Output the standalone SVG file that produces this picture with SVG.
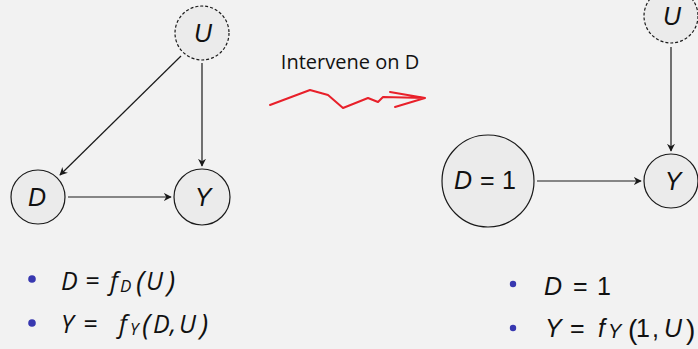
<svg xmlns="http://www.w3.org/2000/svg" width="698" height="349" viewBox="0 0 698 349">
  <style>
    .node { fill: #ebebeb; stroke: #1a1a1a; stroke-width: 1.2; }
    .latent { stroke-dasharray: 3 2; }
    .edge { stroke: #1a1a1a; stroke-width: 1.2; fill: none; marker-end: url(#arrow); }
    .lbl { font-family: "Liberation Sans", Arial, sans-serif; font-size: 25px; fill: #111; }
    .it { font-style: italic; }
    .eq { font-family: "Open Sans", "Liberation Sans", sans-serif; font-size: 25px; font-style: italic; fill: #111; }
    .sub { font-size: 17px; }
    .par { font-size: 29px; }
    .bullet { fill: #3838b0; }
    .note { font-family: "Open Sans", "Liberation Sans", sans-serif; font-size: 20px; fill: #111; }
  </style>
  <defs>
    <marker id="arrow" viewBox="0 0 10 10" refX="9" refY="5" markerWidth="8" markerHeight="8" markerUnits="userSpaceOnUse" orient="auto">
      <path d="M0,0 L10,5 L0,10 L3,5 Z" fill="#1a1a1a"/>
    </marker>
  </defs>
  <rect width="698" height="349" fill="#f2f2f2"/>

  <!-- connectors -->
  <g id="connectors">
    <line class="edge" x1="181" y1="56" x2="60" y2="175"/>
    <line class="edge" x1="202" y1="63" x2="202" y2="166"/>
    <line class="edge" x1="68" y1="197" x2="171" y2="197"/>
    <line class="edge" x1="671" y1="47" x2="671" y2="151"/>
    <line class="edge" x1="537" y1="181" x2="641" y2="181"/>
  </g>

  <!-- original model -->
  <g id="U1">
    <circle class="node latent" cx="202" cy="33" r="27"/>
    <text class="lbl it" x="203" y="42" text-anchor="middle">U</text>
  </g>
  <g id="D1">
    <circle class="node" cx="38" cy="197" r="27"/>
    <text class="lbl it" x="37" y="206" text-anchor="middle">D</text>
  </g>
  <g id="Y1">
    <circle class="node" cx="202" cy="197" r="28"/>
    <text class="lbl it" x="203" y="206" text-anchor="middle">Y</text>
  </g>

  <!-- intervention -->
  <g id="intervene">
    <text class="note" x="350" y="69" text-anchor="middle">Intervene on D</text>
    <path d="M270,105 L310,90 L328,95 L343,108 L368,98 L378,102 L383,97 L425,98 M390,92 L425,98 L395,107" fill="none" stroke="#e8202a" stroke-width="2" stroke-linejoin="round" stroke-linecap="round"/>
  </g>

  <!-- intervened model -->
  <g id="U2">
    <circle class="node latent" cx="671" cy="16" r="27"/>
    <text class="lbl it" x="672" y="25" text-anchor="middle">U</text>
  </g>
  <g id="D2">
    <circle class="node" cx="488" cy="181" r="46"/>
    <text class="lbl"><tspan class="it" x="454" y="189">D</tspan><tspan x="480" y="189">=</tspan><tspan x="502" y="189">1</tspan></text>
  </g>
  <g id="Y2">
    <circle class="node" cx="671" cy="181" r="27"/>
    <text class="lbl it" x="673" y="190" text-anchor="middle">Y</text>
  </g>

  <!-- structural equations -->
  <g id="eq-left">
    <circle class="bullet" cx="32" cy="279" r="3.8"/>
    <text class="eq"><tspan x="61" y="290">D</tspan><tspan x="85" y="290">=</tspan><tspan x="110" y="290">f</tspan><tspan class="sub" x="120" y="292">D</tspan><tspan class="par" x="136" y="292">(</tspan><tspan x="146" y="290">U</tspan><tspan class="par" x="167" y="292">)</tspan></text>
    <circle class="bullet" cx="32" cy="323" r="3.8"/>
    <text class="eq"><tspan x="61" y="333">Y</tspan><tspan x="83" y="333">=</tspan><tspan x="119" y="333">f</tspan><tspan class="sub" x="130" y="335">Y</tspan><tspan class="par" x="142" y="335">(</tspan><tspan x="153" y="333">D</tspan><tspan x="170" y="333">,</tspan><tspan x="179" y="333">U</tspan><tspan class="par" x="200" y="335">)</tspan></text>
  </g>
  <g id="eq-right">
    <circle class="bullet" cx="513" cy="284" r="3.2"/>
    <text class="lbl"><tspan class="it" x="544" y="295">D</tspan><tspan x="573" y="295">=</tspan><tspan x="597" y="295">1</tspan></text>
    <circle class="bullet" cx="513" cy="328" r="3.2"/>
    <text class="lbl"><tspan class="it" x="545" y="337">Y</tspan><tspan x="570" y="337">=</tspan><tspan class="it" x="598" y="337">f</tspan><tspan class="it" font-size="20" x="608" y="338">Y</tspan><tspan font-size="28" x="628" y="339">(</tspan><tspan x="636" y="337">1</tspan><tspan x="652" y="337">,</tspan><tspan class="it" x="664" y="337">U</tspan><tspan font-size="28" x="686" y="339">)</tspan></text>
  </g>
</svg>
